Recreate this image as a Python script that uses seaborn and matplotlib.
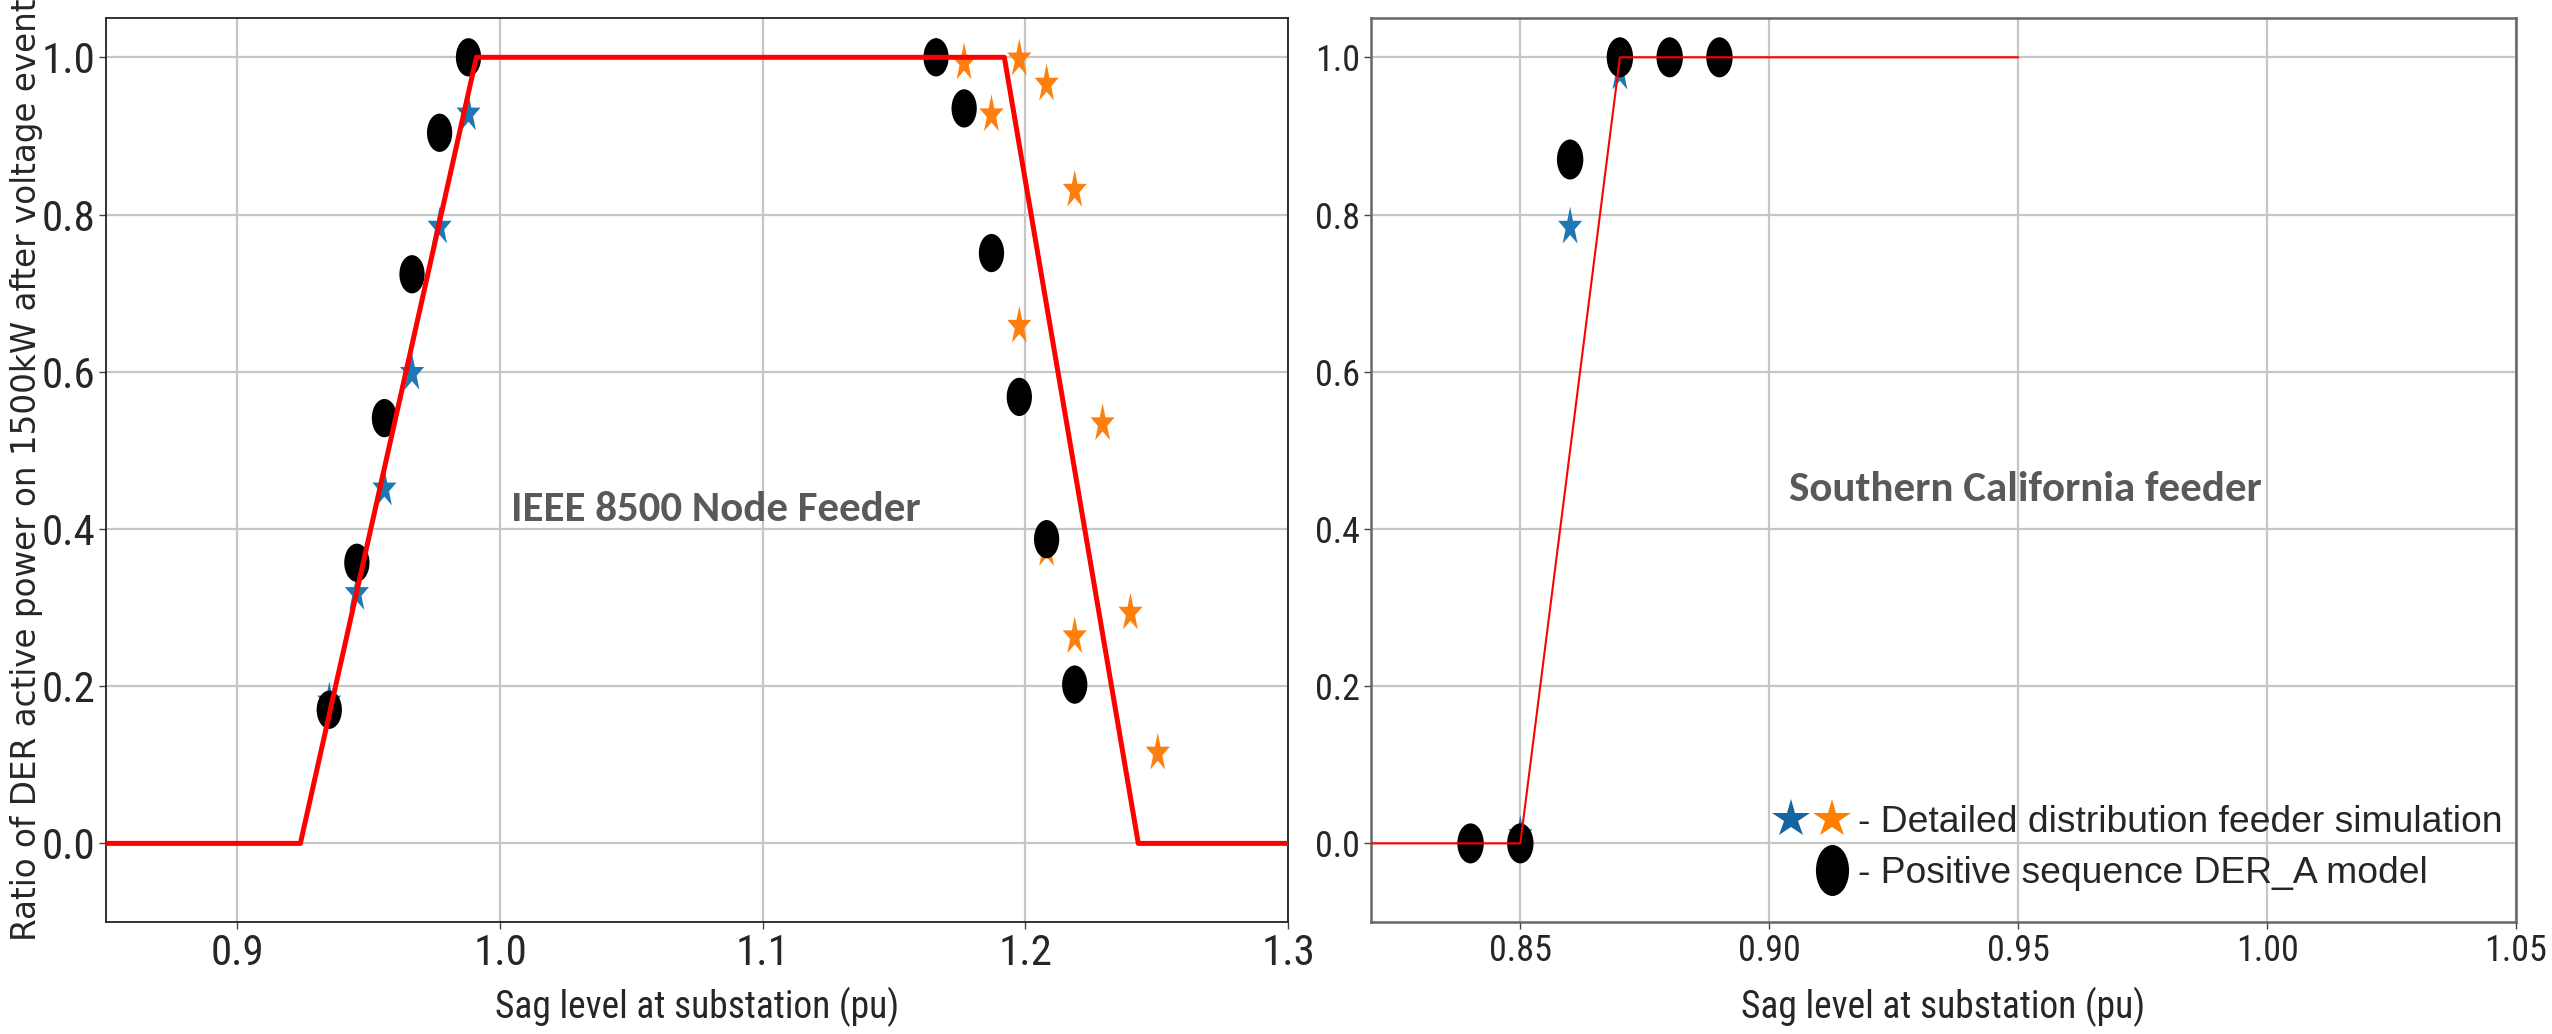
import matplotlib
matplotlib.use("Agg")
import numpy as np
import pandas as pd
import matplotlib.pyplot as plt
import seaborn as sns
from matplotlib.path import Path
from matplotlib.markers import MarkerStyle
from matplotlib.transforms import Affine2D
from matplotlib.lines import Line2D
from matplotlib.legend_handler import HandlerTuple
from matplotlib import font_manager

# ---------------- data ----------------
# Left panel: IEEE 8500 Node Feeder
ieee_model_x = [0.935, 0.9455, 0.956, 0.9665, 0.977, 0.988,
                1.166, 1.1767, 1.1871, 1.1977, 1.2081, 1.2188]
ieee_model_y = [0.17, 0.357, 0.541, 0.724, 0.904, 1.0,
                1.0, 0.935, 0.751, 0.568, 0.387, 0.202]
ieee_sim_low_x = [0.935, 0.9455, 0.956, 0.9665, 0.977, 0.988]
ieee_sim_low_y = [0.18, 0.318, 0.451, 0.598, 0.784, 0.928]
ieee_sim_high_x = [1.166, 1.1767, 1.1871, 1.1977, 1.2081, 1.2188,
                   1.1977, 1.2294, 1.2081, 1.2188, 1.24, 1.2504]
ieee_sim_high_y = [1.0, 0.993, 0.927, 0.998, 0.966, 0.831,
                   0.658, 0.534, 0.374, 0.263, 0.293, 0.115]
ieee_curve_x = [0.85, 0.924, 0.991, 1.192, 1.243, 1.3]
ieee_curve_y = [0.0, 0.0, 1.0, 1.0, 0.0, 0.0]

# Right panel: Southern California feeder
sce_model_x = [0.84, 0.85, 0.86, 0.87, 0.88, 0.89]
sce_model_y = [0.0, 0.0, 0.87, 1.0, 1.0, 1.0]
sce_sim_x = [0.85, 0.86, 0.87]
sce_sim_y = [0.01, 0.784, 0.98]
sce_curve_x = [0.82, 0.85, 0.87, 0.95]
sce_curve_y = [0.0, 0.0, 1.0, 1.0]

left_xticks = [0.9, 1.0, 1.1, 1.2, 1.3]
left_xticklabels = ["0.9", "1.0", "1.1", "1.2", "1.3"]
right_xticks = [0.85, 0.90, 0.95, 1.00, 1.05]
right_xticklabels = ["0.85", "0.90", "0.95", "1.00", "1.05"]
yticks = [0.0, 0.2, 0.4, 0.6, 0.8, 1.0]
yticklabels = ["0.0", "0.2", "0.4", "0.6", "0.8", "1.0"]

xlabel = "Sag level at substation (pu)"
ylabel = "Ratio of DER active power on 1500kW after voltage event"
legend_labels = ["- Detailed distribution feeder simulation",
                 "- Positive sequence DER_A model"]

# ---------------- style ----------------
sns.set_style("white")
fonts = font_manager.fontManager.ttflist
names = {f.name for f in fonts}


def pick(cands, default="DejaVu Sans"):
    for c in cands:
        if c in names:
            return c
    return default


narrow = pick(["Liberation Sans Narrow", "Roboto Condensed", "Archivo Narrow",
               "PT Sans Narrow", "Open Sans Condensed"])
arial = pick(["Liberation Sans", "Arimo"])
bold_font = pick(["Carlito", "Lato"])
plt.rcParams["font.family"] = ["DejaVu Sans"]

BLUE = "#1f77b4"
ORANGE = "#ff7f0e"
RED = "#ff0000"
GRID = "#c6c6c6"
ANN = "#595959"

# squashed markers (the reference is horizontally compressed)
ell_path = Path.unit_circle().transformed(Affine2D().scale(0.66, 1.0))
star_path = MarkerStyle("*").get_path().transformed(Affine2D().scale(0.62, 1.0))
ELL = MarkerStyle(ell_path)
STAR = MarkerStyle(star_path)

fig = plt.figure(figsize=(25.52, 10.34), dpi=100)
ax1 = fig.add_axes([0.04154, 0.10832, 0.46317, 0.87427])
ax2 = fig.add_axes([0.53722, 0.10832, 0.44867, 0.87427])


def style_axes(ax, xticks, xticklabels, xlim, tick_size, spine_color, spine_lw):
    ax.set_xlim(*xlim)
    ax.set_ylim(-0.1, 1.05)
    ax.set_xticks(xticks)
    ax.set_xticklabels(xticklabels, fontfamily=[narrow, "DejaVu Sans"])
    ax.set_yticks(yticks)
    ax.set_yticklabels(yticklabels, fontfamily=[narrow, "DejaVu Sans"])
    ax.tick_params(axis="both", labelsize=tick_size, length=5, width=1.0,
                   color="#444444", pad=3, direction="out", bottom=True, left=True)
    ax.grid(True, color=GRID, linewidth=1.6)
    ax.set_axisbelow(True)
    for s in ax.spines.values():
        s.set_visible(True)
        s.set_color(spine_color)
        s.set_linewidth(spine_lw)
    ax.set_xlabel(xlabel, fontsize=27, fontfamily=[narrow, "DejaVu Sans"])
    ax.xaxis.set_label_coords(0.5, -0.072)


# ---------------- left panel ----------------
sns.scatterplot(x=ieee_sim_low_x, y=ieee_sim_low_y, ax=ax1, marker=STAR, s=865,
                color=BLUE, edgecolor="none", linewidth=0, zorder=3)
sns.scatterplot(x=ieee_sim_high_x, y=ieee_sim_high_y, ax=ax1, marker=STAR, s=865,
                color=ORANGE, edgecolor="none", linewidth=0, zorder=3)
sns.scatterplot(x=ieee_model_x, y=ieee_model_y, ax=ax1, marker=ELL, s=760,
                color="black", edgecolor="none", linewidth=0, zorder=4)
sns.lineplot(x=ieee_curve_x, y=ieee_curve_y, ax=ax1, color=RED, linewidth=3.6,
             sort=False, estimator=None, zorder=5)
style_axes(ax1, left_xticks, left_xticklabels, (0.85, 1.3), 31, "#222222", 1.3)
ax1.set_ylabel(ylabel, fontsize=23.5, fontfamily="DejaVu Sans")
ax1.yaxis.set_label_coords(-0.053, 0.5)
ax1.text(1.004, 0.41, "IEEE 8500 Node Feeder", fontsize=31, fontweight="bold",
         color=ANN, family=[bold_font, "DejaVu Sans"], ha="left", va="baseline")

# ---------------- right panel ----------------
sns.scatterplot(x=sce_sim_x, y=sce_sim_y, ax=ax2, marker=STAR, s=865,
                color=BLUE, edgecolor="none", linewidth=0, zorder=3)
sns.scatterplot(x=sce_model_x, y=sce_model_y, ax=ax2, marker=ELL, s=830,
                color="black", edgecolor="none", linewidth=0, zorder=4)
sns.lineplot(x=sce_curve_x, y=sce_curve_y, ax=ax2, color=RED, linewidth=1.5,
             sort=False, estimator=None, zorder=5)
style_axes(ax2, right_xticks, right_xticklabels, (0.82, 1.05), 26, "#666666", 1.8)
ax2.set_ylabel("")
ax2.text(0.9039, 0.435, "Southern California feeder", fontsize=31, fontweight="bold",
         color=ANN, family=[bold_font, "DejaVu Sans"], ha="left", va="baseline")

# legend (custom handles)
leg_ell = MarkerStyle(Path.unit_circle().transformed(Affine2D().scale(0.65, 1.0)))
h_blue = Line2D([], [], marker="*", linestyle="none", markersize=28.6,
                color="#1565a0", markeredgewidth=0)
h_orange = Line2D([], [], marker="*", linestyle="none", markersize=28.6,
                  color="#ff8000", markeredgewidth=0)
h_blank = Line2D([], [], linestyle="none")
h_ell = Line2D([], [], marker=leg_ell, linestyle="none", markersize=36.7,
               color="black", markeredgewidth=0)
ax2.legend(handles=[(h_blue, h_orange), (h_blank, h_ell)], labels=legend_labels,
           handler_map={tuple: HandlerTuple(ndivide=None, pad=0)},
           loc="lower left", bbox_to_anchor=(0.349, 0.034), frameon=False,
           prop={"family": [arial, "DejaVu Sans"], "size": 26.8},
           handlelength=2.2, handletextpad=0.16, labelspacing=0.43,
           borderpad=0, borderaxespad=0)

fig.savefig("out.png", dpi=100)
